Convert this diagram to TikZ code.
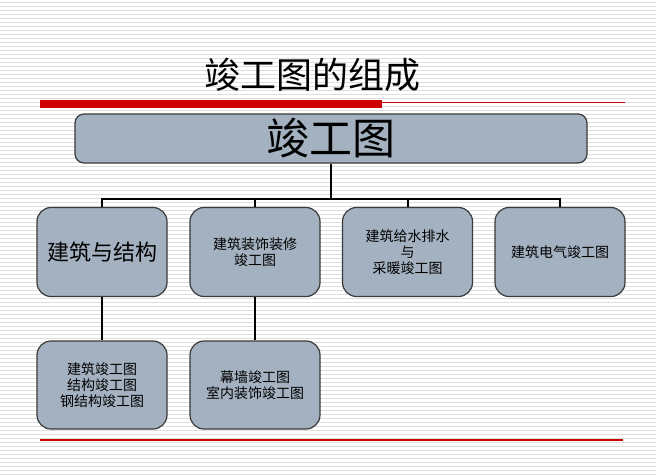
\documentclass[tikz,border=0pt]{standalone}
\usepackage{fontspec}
\newfontfamily\cjk{Noto Sans CJK SC}
\definecolor{boxfill}{HTML}{A3B1C0}
\definecolor{boxline}{HTML}{3A3A3A}
\definecolor{stripe}{HTML}{DEDEDE}
\definecolor{barred}{HTML}{CC0000}
\begin{document}
\begin{tikzpicture}[x=1pt,y=-1pt,
  box/.style={draw=boxline,line width=1.2pt,fill=boxfill,rounded corners=14pt,
    minimum width=130pt,minimum height=89pt,align=center,inner sep=0pt,
    font=\cjk\fontsize{14}{16}\selectfont},
  conn/.style={draw=black,line width=2pt}]
\useasboundingbox (0,0) rectangle (656,474);
\fill[white] (0,0) rectangle (656,474);
\foreach \i in {0,...,118} {
  \draw[stripe,line width=1pt] (0,{2.5+4*\i}) -- (656,{2.5+4*\i});
}
% title
\node[font=\cjk\fontsize{36}{38}\selectfont,inner sep=0pt] (title) at (312,75) {竣工图的组成};
% red rules
\fill[barred] (40,100) rectangle (382,108);
\draw[barred,line width=1pt] (382,102) -- (625,102);
\draw[barred,line width=1.2pt] (40,440) -- (623,440);
% top box
\node[box,rounded corners=9pt,minimum width=512pt,minimum height=49pt,
  font=\cjk\fontsize{43}{45}\selectfont] (top) at (331,138.5) {竣工图};
% second row
\node[box,font=\cjk\fontsize{22}{24}\selectfont] (b1) at (102,252) {建筑与结构};
\node[box] (b2) at (255,252) {建筑装饰装修\\竣工图};
\node[box] (b3) at (407.5,252) {建筑给水排水\\与\\采暖竣工图};
\node[box] (b4) at (560,252) {建筑电气竣工图};
% third row
\node[box,minimum height=88pt] (c1) at (102,385) {建筑竣工图\\结构竣工图\\钢结构竣工图};
\node[box,minimum height=88pt] (c2) at (255,385) {幕墙竣工图\\室内装饰竣工图};
% connectors
\coordinate (hub) at (331,199);
\draw[conn] (top.south) -- (hub);
\draw[conn] (b1.north) -- (b1.north |- hub) -- (b4.north |- hub) -- (b4.north);
\draw[conn] (b2.north) -- (b2.north |- hub);
\draw[conn] (b3.north) -- (b3.north |- hub);
\draw[conn] (b1.south) -- (c1.north);
\draw[conn] (b2.south) -- (c2.north);
\end{tikzpicture}
\end{document}
